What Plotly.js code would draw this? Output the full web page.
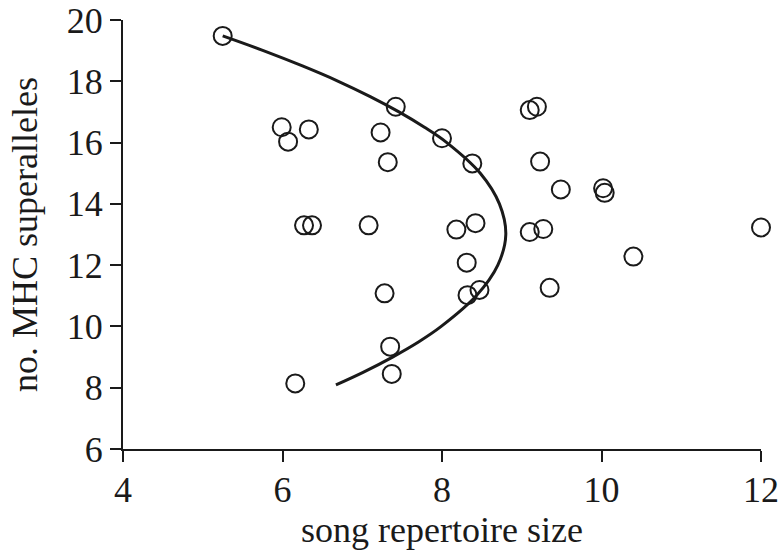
<!DOCTYPE html>
<html>
<head>
<meta charset="utf-8">
<script src="https://cdn.plot.ly/plotly-3.0.1.min.js"></script>
<style>html,body{margin:0;padding:0;background:#fff;}#chart{width:780px;height:554px;}</style>
</head>
<body>
<div id="chart"></div>
<script>
// observed points: song repertoire size vs number of MHC superalleles
const songRepertoire = [5.25, 5.99, 6.07, 6.33, 7.23, 7.32, 7.42, 6.27, 6.37, 7.08,
  8.00, 8.38, 9.10, 9.19, 9.23, 9.49, 10.02, 10.04, 8.18, 8.42, 9.10, 9.27,
  10.40, 8.31, 7.28, 8.32, 8.47, 9.35, 7.35, 7.37, 6.16, 12.00];
const mhcSuperalleles = [19.48, 16.50, 16.03, 16.43, 16.33, 15.36, 17.17, 13.30, 13.30, 13.30,
  16.14, 15.32, 17.06, 17.17, 15.38, 14.47, 14.51, 14.36, 13.16, 13.37, 13.08, 13.18,
  12.28, 12.08, 11.08, 11.02, 11.19, 11.26, 9.34, 8.45, 8.14, 13.23];

// fitted curve
const curveY = [19.48, 19.0, 18.5, 18.0, 17.5, 17.0, 16.5, 16.0, 15.0, 14.0, 13.0, 12.0, 11.0, 10.0, 9.5, 9.0, 8.5, 8.09];
const curveX = [5.25, 5.76, 6.25, 6.70, 7.10, 7.46, 7.78, 8.06, 8.48, 8.72, 8.80, 8.70, 8.43, 7.99, 7.71, 7.38, 7.01, 6.67];

const xTicks = [4, 6, 8, 10, 12];
const yTicks = [6, 8, 10, 12, 14, 16, 18, 20];

const ink = '#1a1a1a';
const font = {family: '"Liberation Serif", "Times New Roman", serif', size: 36, color: ink};

const traces = [
  {
    x: curveX, y: curveY, type: 'scatter', mode: 'lines',
    line: {color: ink, width: 3, shape: 'spline', smoothing: 1},
    hoverinfo: 'skip', cliponaxis: false
  },
  {
    x: songRepertoire, y: mhcSuperalleles, type: 'scatter', mode: 'markers',
    marker: {symbol: 'circle', size: 18, color: 'rgba(255,255,255,0)', line: {color: ink, width: 2}},
    cliponaxis: false
  }
];

const layout = {
  width: 780, height: 554,
  margin: {l: 123, r: 19, t: 20, b: 105},
  paper_bgcolor: '#fff', plot_bgcolor: '#fff',
  showlegend: false,
  font: font,
  xaxis: {
    range: [4, 12], tickvals: xTicks, ticktext: xTicks.map(String),
    showgrid: false, zeroline: false,
    showline: true, linecolor: ink, linewidth: 2,
    ticks: 'outside', ticklen: 11, tickwidth: 2, tickcolor: ink,
    tickfont: font, ticklabelstandoff: -3,
    title: {text: 'song repertoire size', font: font, standoff: 2}
  },
  yaxis: {
    range: [6, 20], tickvals: yTicks, ticktext: yTicks.map(String),
    showgrid: false, zeroline: false,
    showline: true, linecolor: ink, linewidth: 2,
    ticks: 'outside', ticklen: 11, tickwidth: 2, tickcolor: ink,
    tickfont: font,
    title: {text: 'no. MHC superalleles', font: font, standoff: 18}
  }
};

Plotly.newPlot('chart', traces, layout, {staticPlot: true, displayModeBar: false});
</script>
</body>
</html>
